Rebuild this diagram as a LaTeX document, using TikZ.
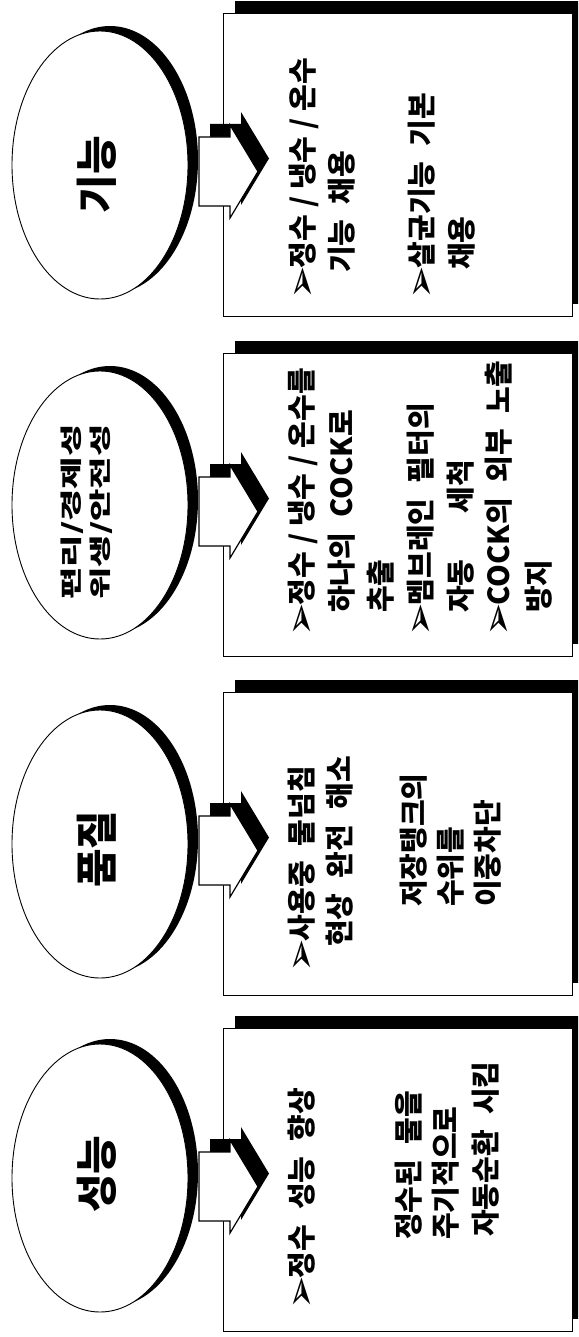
\documentclass[tikz,border=0pt]{standalone}
\usepackage{fontspec}
\newfontfamily\krfont{Noto Sans CJK KR}[WordSpace=2.3]
\newfontfamily\symfont{DejaVu Sans}
\usetikzlibrary{shapes.geometric,shadows}
\newcommand\bul{{\symfont\fontsize{40}{40}\selectfont\raisebox{-2pt}{➢}}\kern-2pt}
\newcommand\sls{\kern7pt/\kern7pt}
\tikzset{
  x=1pt,y=-1pt,
  panelbox/.style={draw, line width=1.1pt, fill=white, minimum width=349pt, minimum height=303pt,
    anchor=north west, inner sep=0pt,
    drop shadow={shadow xshift=11pt, shadow yshift=13pt, fill=black, opacity=1}},
  oval/.style={ellipse, draw, line width=0.9pt, fill=white, minimum width=176pt, minimum height=268pt,
    inner sep=0pt, drop shadow={shadow xshift=10pt, shadow yshift=5pt, fill=black, opacity=1}},
  body/.style={font=\krfont\bfseries\fontsize{29}{30}\selectfont, rotate=90, anchor=west,
    inner sep=0pt, text height=25pt, text depth=3pt},
  title/.style={font=\krfont\bfseries\fontsize{42}{44}\selectfont, rotate=90, inner sep=0pt},
  smalltitle/.style={font=\krfont\bfseries\fontsize{22}{29}\selectfont, rotate=90, xscale=1.6, align=center, inner sep=0pt},
  arrowwhite/.style={fill=white, draw, line width=1.2pt, line join=miter},
  blockarrow/.pic={
    \fill[black] (11,-47.5) -- (42,-47.5) -- (42,-59.5) -- (70,-13) -- (42,33.5) -- (42,21.5) -- (11,21.5) -- cycle;
    \draw[arrowwhite] (0,-34.5) -- (31,-34.5) -- (31,-46.5) -- (59,0) -- (31,46.5) -- (31,34.5) -- (0,34.5) -- cycle;
  }
}
\begin{document}
\begin{tikzpicture}
\useasboundingbox (0,0) rectangle (578,1337);
\clip (0,0) rectangle (578,1337);

% ---------- panel 1 : 기능 ----------
\node[panelbox] (b1) at (223,13) {};
\node[oval] (e1) at (100,165) {};
\node[title] (l1) at (97,175) {기능};
\coordinate (a1) at (199,171.5);
\pic at (a1) {blockarrow};
\node[body] (t1a) at (302,300) {\bul 정수\sls 냉수\sls 온수};
\node[body] (t1b) at (341,273) {기능 채용};
\node[body] (t1c) at (421,300) {\bul 살균기능 기본};
\node[body] (t1d) at (461,270) {채용};

% ---------- panel 2 : 편리/경제성 ----------
\node[panelbox] (b2) at (223,353) {};
\node[oval] (e2) at (100,505) {};
\node[smalltitle] (l2) at (87,512) {편리/경제성\\위생/안전성};
\coordinate (a2) at (199,511.5);
\pic at (a2) {blockarrow};
\node[body] (t2a) at (301,637) {\bul 정수\sls 냉수\sls 온수를};
\node[body] (t2b) at (341,613) {하나의 COCK로};
\node[body] (t2c) at (380,613) {추출};
\node[body] (t2d) at (420,637) {\bul 멤브레인 필터의};
\node[body] (t2e) at (460,613) {자동~~~세척};
\node[body] (t2f) at (498,637) {\bul COCK의 외부 노출};
\node[body] (t2g) at (538,613) {방지};

% ---------- panel 3 : 품질 ----------
\node[panelbox] (b3) at (223,692) {};
\node[oval] (e3) at (100,844) {};
\node[title] (l3) at (97,849) {품질};
\coordinate (a3) at (199,850.5);
\pic at (a3) {blockarrow};
\node[body] (t3a) at (301,973) {\bul 사용중 물넘침};
\node[body] (t3b) at (339,947) {현상 완전 해소};
\node[body] (t3c) at (413,907) {저장탱크의};
\node[body] (t3d) at (450,907) {수위를};
\node[body] (t3e) at (487,907) {이중차단};

% ---------- panel 4 : 성능 ----------
\node[panelbox] (b4) at (223,1028) {};
\node[oval] (e4) at (100,1178) {};
\node[title] (l4) at (97,1174) {성능};
\coordinate (a4) at (199,1186.5);
\pic at (a4) {blockarrow};
\node[body] (t4a) at (301,1310) {\bul 정수 성능 향상};
\node[body] (t4b) at (408,1240) {정수된 물을};
\node[body] (t4c) at (445,1240) {주기적으로};
\node[body] (t4d) at (485,1237) {자동순환 시킴};
\end{tikzpicture}
\end{document}
